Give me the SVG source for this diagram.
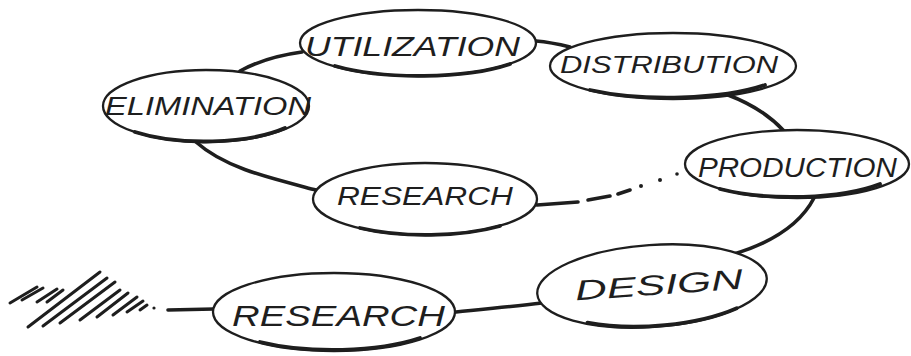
<svg xmlns="http://www.w3.org/2000/svg" width="911" height="356" viewBox="0 0 911 356">
  <style>
    .ring { fill: #fff; stroke: #1e1e1e; stroke-width: 2.3; }
    .shade { fill: none; stroke: #1e1e1e; stroke-width: 3.8; stroke-linecap: round; }
    .lbl { font-family: "Liberation Sans", Arial, sans-serif; font-style: italic; fill: #1e1e1e; }
    .link { fill: none; stroke: #1e1e1e; stroke-width: 3.6; stroke-linecap: round; }
    .hatch { fill: none; stroke: #1e1e1e; stroke-width: 3; stroke-linecap: round; }
  </style>
  <rect width="911" height="356" fill="#fff"/>

  <!-- connectors -->
  <g id="connectors">
    <path class="link" d="M240 71 C260 60 280 55 302 52"/>
    <path class="link" d="M536 41 C548 42 558 44 570 47"/>
    <path class="link" d="M728 95 C752 104 770 116 784 131"/>
    <path class="link" d="M814 198 C800 225 770 243 734 254"/>
    <path class="link" d="M456 312 C480 309 510 307 542 303"/>
    <path class="link" d="M196 142 C225 168 270 178 316 190"/>
    <!-- loose end: solid, then dashes, then dots -->
    <path class="link" d="M537 205 L578 202"/>
    <path class="link" d="M588 200 L610 196"/>
    <path class="link" d="M618 194 L630 190"/>
    <circle cx="641" cy="186" r="2" fill="#1e1e1e"/>
    <circle cx="660" cy="180" r="2" fill="#1e1e1e"/>
    <circle cx="677" cy="174" r="1.8" fill="#1e1e1e"/>
    <!-- lead-in from the hatched start -->
    <path class="link" d="M168 310 L214 309"/>
    <g id="hatching">
      <path class="hatch" d="M10 303 L37 287"/>
      <path class="hatch" d="M22 300 L43 288"/>
      <path class="hatch" d="M37 302 L57 289"/>
      <path class="hatch" d="M47 302 L63 290"/>
      <path class="hatch" d="M28 327 L100 272"/>
      <path class="hatch" d="M43 326 L107 278"/>
      <path class="hatch" d="M60 323 L115 282"/>
      <path class="hatch" d="M80 320 L120 290"/>
      <path class="hatch" d="M97 317 L128 293"/>
      <path class="hatch" d="M113 315 L137 297"/>
      <path class="hatch" d="M127 312 L143 301"/>
      <path class="hatch" d="M140 310 L147 305"/>
      <circle cx="154" cy="308" r="1.6" fill="#1e1e1e"/>
    </g>
  </g>

  <g id="utilization">
    <ellipse class="ring" cx="418" cy="43" rx="118" ry="33"/>
    <path class="shade" d="M335 66 A118 33 0 0 0 510 64"/>
    <text class="lbl" x="305" y="56" font-size="27" textLength="215" lengthAdjust="spacingAndGlyphs">UTILIZATION</text>
  </g>

  <g id="elimination">
    <ellipse class="ring" cx="206" cy="106" rx="103" ry="36"/>
    <path class="shade" d="M135 132 A103 36 0 0 0 285 128"/>
    <text class="lbl" x="105" y="115" font-size="26" textLength="206" lengthAdjust="spacingAndGlyphs">ELIMINATION</text>
  </g>

  <g id="distribution">
    <ellipse class="ring" cx="673" cy="66" rx="123" ry="33"/>
    <path class="shade" d="M590 90 A123 33 0 0 0 765 85"/>
    <text class="lbl" x="560" y="73" font-size="24" textLength="218" lengthAdjust="spacingAndGlyphs">DISTRIBUTION</text>
  </g>

  <g id="production">
    <ellipse class="ring" cx="797" cy="164" rx="112" ry="34"/>
    <path class="shade" d="M720 189 A112 34 0 0 0 880 184"/>
    <text class="lbl" x="698" y="177" font-size="27" textLength="199" lengthAdjust="spacingAndGlyphs">PRODUCTION</text>
  </g>

  <g id="research-loop">
    <ellipse class="ring" cx="425" cy="199" rx="112" ry="36"/>
    <path class="shade" d="M360 228 A112 36 0 0 0 500 226"/>
    <text class="lbl" x="337" y="205" font-size="25" textLength="176" lengthAdjust="spacingAndGlyphs">RESEARCH</text>
  </g>

  <g id="design" transform="rotate(-4 652 286)">
    <ellipse class="ring" cx="652" cy="286" rx="115" ry="41"/>
    <path class="shade" d="M585 318 A115 41 0 0 0 735 314"/>
    <text class="lbl" x="575" y="295" font-size="28" textLength="168" lengthAdjust="spacingAndGlyphs">DESIGN</text>
  </g>

  <g id="research-start">
    <ellipse class="ring" cx="334" cy="312" rx="121" ry="39"/>
    <path class="shade" d="M260 342 A121 39 0 0 0 420 338"/>
    <text class="lbl" x="232" y="326" font-size="29" textLength="213" lengthAdjust="spacingAndGlyphs">RESEARCH</text>
  </g>
</svg>
